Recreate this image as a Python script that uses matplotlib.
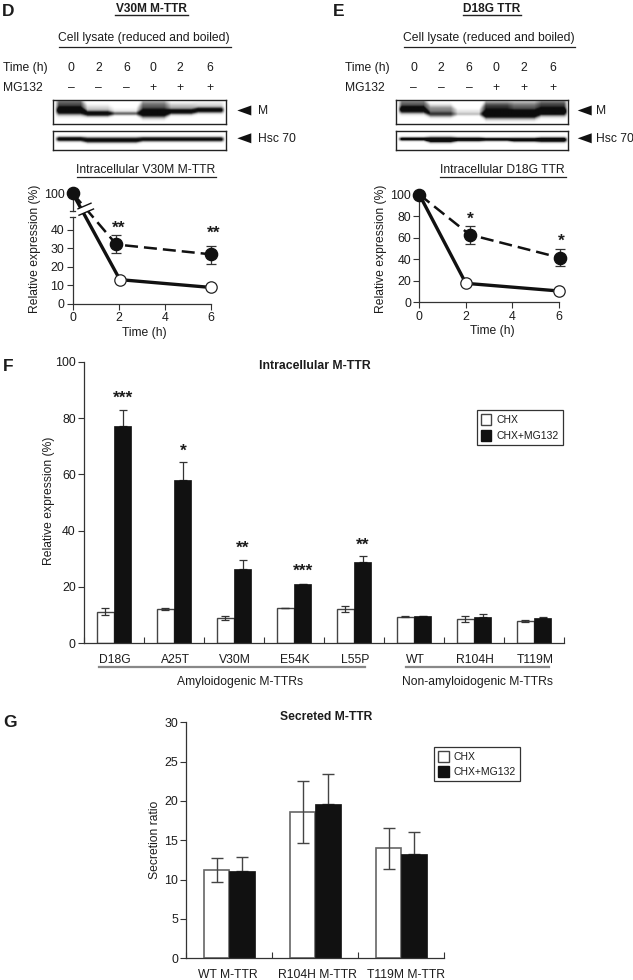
import numpy as np
import matplotlib
matplotlib.use('Agg')
import matplotlib.pyplot as plt
from matplotlib.patches import Patch, Polygon

plt.rcParams['font.family'] = ['Liberation Sans', 'DejaVu Sans']
plt.rcParams['font.size'] = 8.7
plt.rcParams['text.color'] = '#1c1c1c'
plt.rcParams['axes.labelcolor'] = '#1c1c1c'
plt.rcParams['xtick.labelcolor'] = '#1c1c1c'
plt.rcParams['ytick.labelcolor'] = '#1c1c1c'
W, H = 633, 980
AXC = '#333333'

# ---- data ----
lanes_time = ['0', '2', '6', '0', '2', '6']
lanes_mg = ['\u2013', '\u2013', '\u2013', '+', '+', '+']

d_chx = [100, 13, 8.8]
d_mg = [100, 32, 26.7]
d_mg_hi = [0, 5.3, 4.7]
d_mg_lo = [0, 4.4, 5.0]
d_chx_x = [0, 2.05, 6]
d_mg_x = [0, 1.9, 6]

e_chx = [100, 17.6, 10.5]
e_mg = [100, 62.8, 41.4]
e_mg_hi = [0, 8.3, 7.8]
e_mg_lo = [0, 8.4, 7.7]
e_chx_x = [0, 2.0, 6]
e_mg_x = [0, 2.16, 6.03]

f_names = ['D18G', 'A25T', 'V30M', 'E54K', 'L55P', 'WT', 'R104H', 'T119M']
f_chx = [11.1, 12.0, 8.9, 12.3, 12.1, 9.4, 8.5, 7.8]
f_chx_err = [1.3, 0.4, 0.6, 0.0, 1.0, 0.2, 1.2, 0.4]
f_mg = [77.1, 58.0, 26.3, 20.9, 29.0, 9.6, 9.3, 9.0]
f_mg_err = [5.9, 6.5, 3.1, 0.2, 1.8, 0.1, 0.9, 0.3]
f_stars = ['***', '*', '**', '***', '**']
f_star_y = [88.5, 69.6, 34.9, 27.0, 36.0]

g_names = ['WT M-TTR', 'R104H M-TTR', 'T119M M-TTR']
g_chx = [11.2, 18.6, 14.0]
g_chx_err = [1.5, 4.0, 2.6]
g_mg = [11.1, 19.6, 13.3]
g_mg_err = [1.75, 3.8, 2.7]

# blot lanes: intensity, band centre (fraction of height), sigma (px), upper smear
d_m = ([1.1, .95, .5, 1.1, .95, .95], [.46, .58, .58, .56, .50, .44], [2.6, 1.8, 1.1, 2.8, 1.8, 1.8], [.5, .14, .05, .45, .2, .1])
d_h = ([1.0, 1.1, 1.1, 1.0, 1.0, 1.0], [.45, .50, .50, .46, .46, .46], [1.4, 1.6, 1.6, 1.4, 1.4, 1.4], [0, 0, 0, 0, 0, 0])
e_m = ([1.1, .6, .2, 1.2, 1.2, 1.2], [.42, .60, .60, .60, .60, .50], [2.3, 1.9, 1.0, 2.8, 2.8, 2.6], [.45, .35, .08, .6, .45, .55])
e_h = ([.95, 1.2, 1.0, .9, 1.0, 1.15], [.42, .46, .44, .44, .46, .46], [1.2, 1.8, 1.4, 1.2, 1.4, 1.6], [0, 0, 0, 0, 0, 0])

fig = plt.figure(figsize=(W / 100, H / 100), dpi=100, facecolor='white')


def pxaxes(l, r, top, bottom):
    return fig.add_axes([l / W, 1 - bottom / H, (r - l) / W, (bottom - top) / H], facecolor='none')


def label(x, y, s, **kw):
    kw.setdefault('ha', 'center')
    kw.setdefault('va', 'center')
    fig.text(x / W, 1 - (y + 0.8) / H, s, **kw)


def rule(x0, x1, y, color='#222222', lw=0.9):
    fig.add_artist(plt.Line2D([x0 / W, x1 / W], [1 - y / H, 1 - y / H], color=color, lw=lw))


def arrow(tip, base, y):
    fig.add_artist(Polygon([[tip / W, 1 - y / H], [base / W, 1 - (y - 5) / H], [base / W, 1 - (y + 5) / H]],
                           closed=True, facecolor='#111111', edgecolor='none', transform=fig.transFigure))


def blot(l, r, top, bottom, lanes):
    amp, cen, sig, smear = lanes
    ax = pxaxes(l, r, top, bottom)
    w, h = int(r - l), int(bottom - top)
    n = len(amp)
    m = 0.02 * w
    step = (w - 2 * m) / n
    idx = np.clip(((np.arange(w) + 0.5 - m) / step).astype(int), 0, n - 1)
    win = np.ones(7) / 7

    def smooth(v):
        a = np.asarray(v, dtype=float)[idx]
        return np.convolve(np.pad(a, 3, mode='edge'), win, mode='valid')

    a_c, c_c, s_c, sm_c = smooth(amp), smooth(cen) * h, smooth(sig), smooth(smear)
    edge = np.clip((np.arange(w) - m + 2) / 4, 0, 1) * np.clip((w - m + 2 - np.arange(w)) / 4, 0, 1)
    yy = (np.arange(h) + 0.5)[:, None]
    prof = a_c * np.exp(-0.5 * ((yy - c_c) / s_c) ** 2)
    prof = prof + sm_c * np.exp(-0.5 * ((yy - (c_c - 2.6 * s_c)) / (1.3 * s_c)) ** 2)
    im = np.clip(1.3 * prof * edge, 0, 1)
    ax.imshow(1 - 0.95 * im, cmap='gray', vmin=0, vmax=1, aspect='auto',
              interpolation='bilinear', extent=[0, 1, 1, 0])
    ax.set_xticks([])
    ax.set_yticks([])
    for s in ax.spines.values():
        s.set_linewidth(1.0)
        s.set_color('#222222')


def style(ax, inx=False):
    for s in ['top', 'right']:
        ax.spines[s].set_visible(False)
    for s in ['left', 'bottom']:
        ax.spines[s].set_color(AXC)
        ax.spines[s].set_linewidth(0.9)
    ax.tick_params(axis='y', direction='out', length=4, width=0.8, color=AXC, pad=2, labelsize=8.9)
    ax.tick_params(axis='x', direction='in' if inx else 'out', length=4, width=0.8, color=AXC, pad=2, labelsize=8.9)


def stars(ax, x, y, s, size=12.5):
    ax.annotate(s, xy=(x, y), xytext=(0, -0.47 * size), textcoords='offset points', ha='center', va='baseline',
                fontweight='bold', fontsize=size, annotation_clip=False)


def timecourse(ax, chx_x, chx, mg_x, mg, hi, lo):
    ax.plot(chx_x, chx, color='#111111', lw=2.4, clip_on=False, zorder=3, solid_joinstyle='round')
    ax.plot(mg_x, mg, color='#111111', lw=1.8, dashes=(5.2, 2.4), clip_on=False, zorder=3)
    ax.errorbar(mg_x[1:], mg[1:], yerr=[lo[1:], hi[1:]], fmt='none', ecolor='#333333', elinewidth=0.9,
                capsize=3.6, capthick=0.9, zorder=4, clip_on=False)
    ax.plot(chx_x[1:], chx[1:], 'o', ms=8.2, mfc='white', mec='#222222', mew=0.9, clip_on=False, zorder=5)
    ax.plot(mg_x, mg, 'o', ms=8.8, mfc='#111111', mec='#111111', clip_on=False, zorder=6)
    ax.set_xlim(0, 6)
    ax.set_xticks([0, 2, 4, 6])
    ax.set_xlabel('Time (h)', fontsize=8.7)
    ax.xaxis.set_label_coords(0.522, -0.21)


def header(title, t0, t1, tc, lys_c, l0, l1, txt_x, lanes_x, b0, b1, tip, mtx, hsc_y, intr, ic, i0, i1, blots, letter, lx):
    label(lx, 11, letter, fontweight='bold', fontsize=12.5, ha='left')
    label(tc, 8.5, title, fontweight='bold', fontsize=8.6)
    rule(t0, t1, 14.7, lw=1.0)
    label(lys_c, 37, 'Cell lysate (reduced and boiled)')
    rule(l0, l1, 47)
    label(txt_x, 67, 'Time (h)', ha='left')
    label(txt_x, 87.5, 'MG132', ha='left')
    for x, a, b in zip(lanes_x, lanes_time, lanes_mg):
        label(x, 67, a)
        label(x, 87.5, b)
    blot(b0, b1, blots[0][0], blots[0][1], blots[0][2])
    blot(b0, b1, blots[1][0], blots[1][1], blots[1][2])
    arrow(tip, tip + 14, 110.5)
    arrow(tip, tip + 14, 138.3)
    label(mtx, 110.5, 'M', ha='left')
    label(mtx, hsc_y, 'Hsc 70', ha='left')
    label(ic, 169, intr)
    rule(i0, i1, 177.3)


# ---- panel D ----
header('V30M M-TTR', 115, 187.7, 151.3, 144, 59, 230.7, 3.3, [71, 98.7, 126.3, 153.3, 180.3, 210], 53.3, 225.7,
       237.3, 258, 138.3, 'Intracellular V30M M-TTR', 146, 76.7, 216,
       [(100, 124.3, d_m), (130.7, 150.3, d_h)], 'D', 2)
axd = pxaxes(72.7, 210.7, 193.3, 303.7)
BRK = 47.0
K = 0.239
fwd = lambda y: np.where(np.asarray(y) <= BRK, y, BRK + (np.asarray(y) - BRK) * K)
inv = lambda y: np.where(np.asarray(y) <= BRK, y, BRK + (np.asarray(y) - BRK) / K)
axd.set_yscale('function', functions=(fwd, inv))
axd.set_ylim(0, 100)
style(axd)
axd.spines['left'].set_bounds(0, BRK)
axd.plot([0, 0], [59, 100], color=AXC, lw=0.9, clip_on=False, zorder=1)
for yb in (BRK, 59):
    axd.plot([-0.11, 0.08], [yb, yb], color=AXC, lw=0.9, clip_on=False, zorder=1)
axd.set_yticks([0, 10, 20, 30, 40, 100])
timecourse(axd, d_chx_x, d_chx, d_mg_x, d_mg, d_mg_hi, d_mg_lo)
axd.set_ylabel('Relative expression (%)', labelpad=2, fontsize=8.7)
stars(axd, 2.01, 42.8, '**')
stars(axd, 6.13, 40.3, '**')

# ---- panel E ----
header('D18G TTR', 462.7, 521.3, 492, 489, 404, 575.3, 345.3, [413.7, 441.3, 469, 496.3, 524, 552.7], 395.7, 568.3,
       577.7, 595.7, 138, 'Intracellular D18G TTR', 502.7, 440, 566,
       [(99.5, 124.3, e_m), (131, 150, e_h)], 'E', 333)
axe = pxaxes(419.3, 559, 194.5, 302.3)
axe.set_ylim(0, 100)
style(axe)
axe.set_yticks([0, 20, 40, 60, 80, 100])
timecourse(axe, e_chx_x, e_chx, e_mg_x, e_mg, e_mg_hi, e_mg_lo)
axe.set_ylabel('Relative expression (%)', labelpad=2, fontsize=8.7)
stars(axe, 2.2, 80.5, '*')
stars(axe, 6.1, 59.8, '*')

# ---- panel F ----
label(3, 366, 'F', fontweight='bold', fontsize=12.5, ha='left')
axf = pxaxes(84, 564, 362, 643)
xf = np.arange(len(f_names))
bw = 0.29
axf.bar(xf - bw / 2, f_chx, bw, color='white', edgecolor='#444444', linewidth=1.0, zorder=2)
axf.bar(xf + bw / 2, f_mg, bw, color='#111111', edgecolor='#111111', linewidth=0.5, zorder=2)
axf.errorbar(xf - bw / 2, f_chx, yerr=f_chx_err, fmt='none', ecolor='#333333', elinewidth=0.9, capsize=3.2, capthick=0.9, zorder=3)
axf.errorbar(xf + bw / 2, f_mg, yerr=[np.zeros(len(f_mg)), f_mg_err], fmt='none', ecolor='#333333', elinewidth=0.9, capsize=3.2, capthick=0.9, zorder=1)
axf.set_xlim(-0.5, len(f_names) - 0.5)
axf.set_ylim(0, 100)
style(axf, inx=True)
axf.set_xticks(np.arange(len(f_names) + 1) - 0.5)
axf.set_xticklabels([])
axf.set_xticks(xf + 0.02, minor=True)
axf.set_xticklabels(f_names, minor=True)
axf.tick_params(axis='x', which='minor', length=0, pad=8, labelsize=8.7)
axf.set_yticks(range(0, 101, 20))
axf.set_ylabel('Relative expression (%)', fontsize=8.7)
axf.yaxis.set_label_coords(-0.06, 0.505)
for i, (s, y) in enumerate(zip(f_stars, f_star_y)):
    stars(axf, i + 0.15, y, s)
label(315, 365, 'Intracellular M-TTR', fontweight='bold', fontsize=8.8)
rule(99.4, 364.5, 666.7, color='#888888', lw=1.6)
rule(405.8, 548.7, 666.7, color='#888888', lw=1.6)
label(239.6, 681, 'Amyloidogenic M-TTRs')
label(478, 681, 'Non-amyloidogenic M-TTRs')

leg_handles = [Patch(facecolor='white', edgecolor='#444444', label='CHX'),
               Patch(facecolor='#111111', edgecolor='#111111', label='CHX+MG132')]


def legend(ax, l, top):
    lg = ax.legend(handles=leg_handles, loc='upper left',
                   bbox_to_anchor=(l / W, 1 - top / H), bbox_transform=fig.transFigure,
                   frameon=True, fancybox=False, edgecolor='#333333', framealpha=1,
                   fontsize=7.5, handlelength=0.98, handleheight=1.25, handletextpad=0.5,
                   labelspacing=0.4, borderpad=0.4, borderaxespad=0)
    lg.get_frame().set_linewidth(0.9)


legend(axf, 477, 410.3)

# ---- panel G ----
label(3, 722, 'G', fontweight='bold', fontsize=12.5, ha='left')
axg = pxaxes(186.3, 444.3, 722.3, 958.3)
xg = np.arange(len(g_names))
bg = 0.297
axg.bar(xg - bg / 2, g_chx, bg, color='white', edgecolor='#666666', linewidth=1.2, zorder=2)
axg.bar(xg + bg / 2, g_mg, bg, color='#111111', edgecolor='#111111', linewidth=0.5, zorder=2)
axg.errorbar(xg - bg / 2, g_chx, yerr=g_chx_err, fmt='none', ecolor='#444444', elinewidth=1.0, capsize=4.2, capthick=1.0, zorder=3)
axg.errorbar(xg + bg / 2, g_mg, yerr=[np.zeros(len(g_mg)), g_mg_err], fmt='none', ecolor='#444444', elinewidth=1.0, capsize=4.2, capthick=1.0, zorder=1)
axg.set_xlim(-0.5, len(g_names) - 0.5)
axg.set_ylim(0, 30)
style(axg, inx=True)
axg.set_xticks(np.arange(len(g_names) + 1) - 0.5)
axg.set_xticklabels([])
axg.set_xticks(xg + np.array([-0.02, 0.03, 0.05]), minor=True)
axg.set_xticklabels(g_names, minor=True)
axg.tick_params(axis='x', which='minor', length=0, pad=8, labelsize=8.7)
axg.set_yticks(range(0, 31, 5))
axg.set_ylabel('Secretion ratio', fontsize=8.7)
axg.yaxis.set_label_coords(-0.098, 0.5)
label(326, 716.5, 'Secreted M-TTR', fontweight='bold', fontsize=8.7)
legend(axg, 434.3, 746.7)

# ---- axis break slashes on panel D ----
ov = fig.add_axes([0, 0, 1, 1], facecolor='none')
ov.set_xlim(0, W)
ov.set_ylim(H, 0)
ov.axis('off')
ov.add_patch(Polygon([[78, 208.8], [91, 203.2], [93.5, 209], [79, 215.2]], closed=True, facecolor='white',
                     edgecolor='none', zorder=2))
ov.plot([78, 91], [208.8, 203.2], color='#111111', lw=1.0, zorder=3)
ov.plot([79, 93.5], [215.2, 209], color='#111111', lw=1.0, zorder=3)

fig.savefig('out.png', dpi=100, facecolor='white')
